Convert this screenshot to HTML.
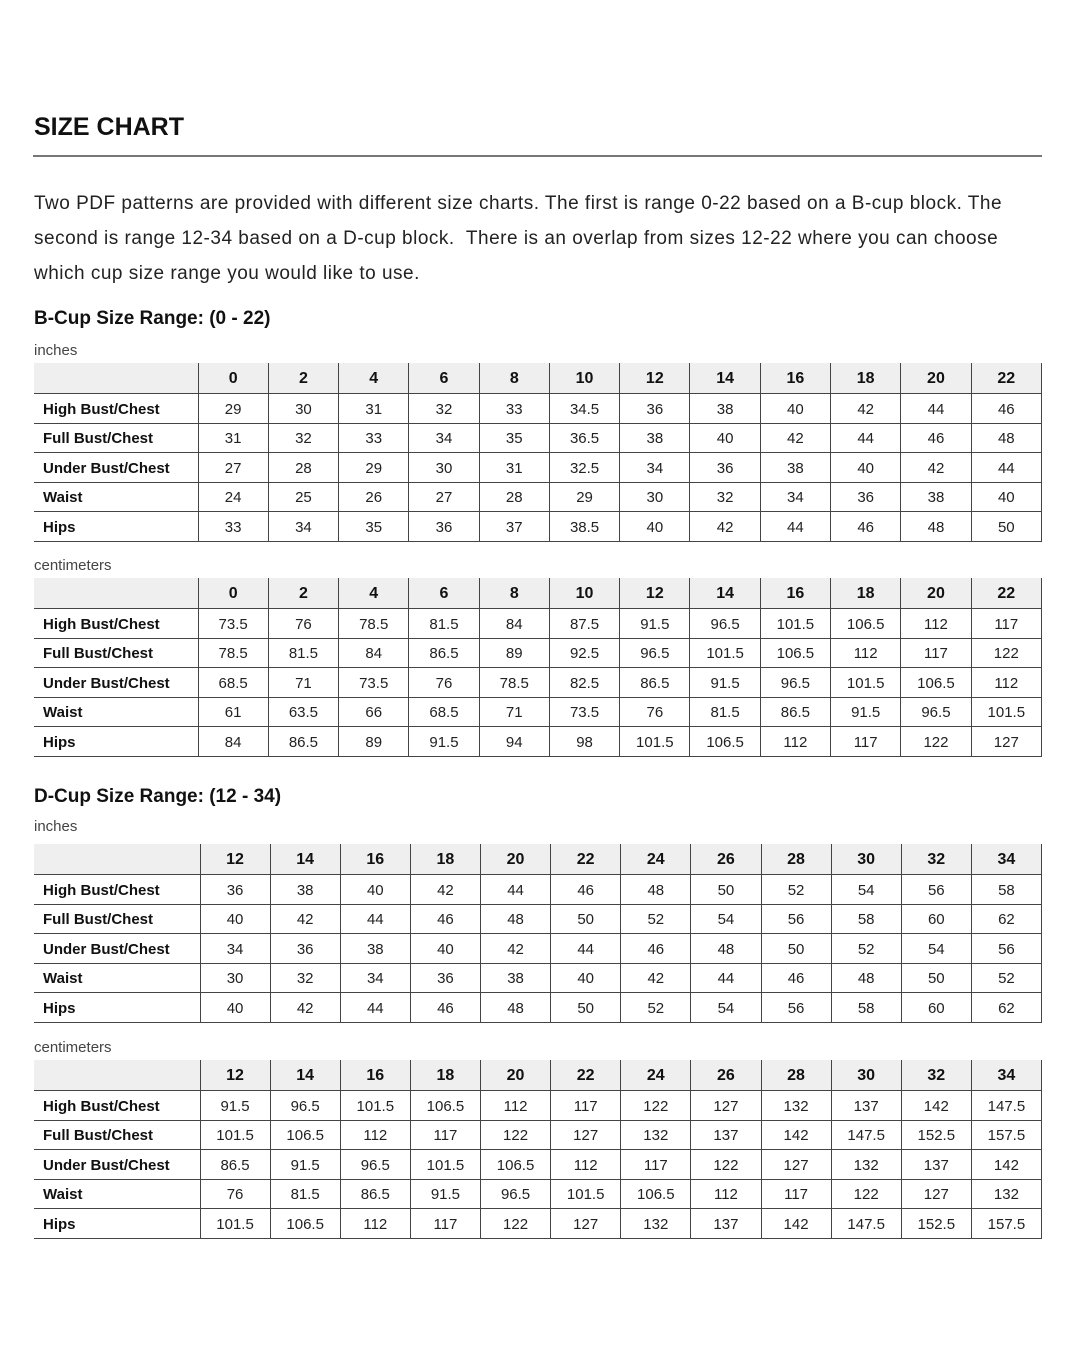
<!DOCTYPE html>
<html><head><meta charset="utf-8"><style>
body{margin:0;width:1080px;height:1350px;background:#fff;font-family:"Liberation Sans",sans-serif;color:#1a1a1a;position:relative;overflow:hidden}
.a{position:absolute;white-space:nowrap}
h1{position:absolute;left:34px;top:113px;margin:0;font-size:25px;font-weight:bold;color:#111}
.rule{position:absolute;left:33px;top:155px;width:1009px;height:2px;background:#777}
p{position:absolute;left:34px;top:186px;margin:0;font-size:19px;line-height:35px;color:#222;white-space:nowrap;letter-spacing:0.5px}
.h2{font-size:19px;font-weight:bold;color:#111}
.u{font-size:15px;color:#444}
table{position:absolute;left:34px;border-collapse:collapse;table-layout:fixed;font-size:15px;color:#222}
td,th{border-bottom:1.5px solid #444;text-align:center;padding:2px 0 0 0;height:26.5px}
th{background:#efefef;font-size:16px;font-weight:bold;height:28px;color:#111}
td+td,th+th{border-left:1.5px solid #444}
td:last-child,th:last-child{border-right:1.5px solid #444}
td:first-child{text-align:left;padding-left:9px;font-weight:bold;color:#111}
</style></head><body>
<h1>SIZE CHART</h1>
<div class="rule"></div>
<p>Two PDF patterns are provided with different size charts. The first is range 0-22 based on a B-cup block. The<br>second is range 12-34 based on a D-cup block.&nbsp; There is an overlap from sizes 12-22 where you can choose<br>which cup size range you would like to use.</p>
<div class="a h2" style="left:34px;top:308px">B-Cup Size Range: (0 - 22)</div>
<div class="a u" style="left:34px;top:342px">inches</div>
<table style="top:363px;width:1008px"><colgroup><col style="width:164px"><col span="12"></colgroup>
<tr><th></th><th>0</th><th>2</th><th>4</th><th>6</th><th>8</th><th>10</th><th>12</th><th>14</th><th>16</th><th>18</th><th>20</th><th>22</th></tr>
<tr><td>High Bust/Chest</td><td>29</td><td>30</td><td>31</td><td>32</td><td>33</td><td>34.5</td><td>36</td><td>38</td><td>40</td><td>42</td><td>44</td><td>46</td></tr>
<tr><td>Full Bust/Chest</td><td>31</td><td>32</td><td>33</td><td>34</td><td>35</td><td>36.5</td><td>38</td><td>40</td><td>42</td><td>44</td><td>46</td><td>48</td></tr>
<tr><td>Under Bust/Chest</td><td>27</td><td>28</td><td>29</td><td>30</td><td>31</td><td>32.5</td><td>34</td><td>36</td><td>38</td><td>40</td><td>42</td><td>44</td></tr>
<tr><td>Waist</td><td>24</td><td>25</td><td>26</td><td>27</td><td>28</td><td>29</td><td>30</td><td>32</td><td>34</td><td>36</td><td>38</td><td>40</td></tr>
<tr><td>Hips</td><td>33</td><td>34</td><td>35</td><td>36</td><td>37</td><td>38.5</td><td>40</td><td>42</td><td>44</td><td>46</td><td>48</td><td>50</td></tr>
</table>
<div class="a u" style="left:34px;top:557px">centimeters</div>
<table style="top:578px;width:1008px"><colgroup><col style="width:164px"><col span="12"></colgroup>
<tr><th></th><th>0</th><th>2</th><th>4</th><th>6</th><th>8</th><th>10</th><th>12</th><th>14</th><th>16</th><th>18</th><th>20</th><th>22</th></tr>
<tr><td>High Bust/Chest</td><td>73.5</td><td>76</td><td>78.5</td><td>81.5</td><td>84</td><td>87.5</td><td>91.5</td><td>96.5</td><td>101.5</td><td>106.5</td><td>112</td><td>117</td></tr>
<tr><td>Full Bust/Chest</td><td>78.5</td><td>81.5</td><td>84</td><td>86.5</td><td>89</td><td>92.5</td><td>96.5</td><td>101.5</td><td>106.5</td><td>112</td><td>117</td><td>122</td></tr>
<tr><td>Under Bust/Chest</td><td>68.5</td><td>71</td><td>73.5</td><td>76</td><td>78.5</td><td>82.5</td><td>86.5</td><td>91.5</td><td>96.5</td><td>101.5</td><td>106.5</td><td>112</td></tr>
<tr><td>Waist</td><td>61</td><td>63.5</td><td>66</td><td>68.5</td><td>71</td><td>73.5</td><td>76</td><td>81.5</td><td>86.5</td><td>91.5</td><td>96.5</td><td>101.5</td></tr>
<tr><td>Hips</td><td>84</td><td>86.5</td><td>89</td><td>91.5</td><td>94</td><td>98</td><td>101.5</td><td>106.5</td><td>112</td><td>117</td><td>122</td><td>127</td></tr>
</table>
<div class="a h2" style="left:34px;top:786px">D-Cup Size Range: (12 - 34)</div>
<div class="a u" style="left:34px;top:818px">inches</div>
<table style="top:844px;width:1008px"><colgroup><col style="width:166px"><col span="12"></colgroup>
<tr><th></th><th>12</th><th>14</th><th>16</th><th>18</th><th>20</th><th>22</th><th>24</th><th>26</th><th>28</th><th>30</th><th>32</th><th>34</th></tr>
<tr><td>High Bust/Chest</td><td>36</td><td>38</td><td>40</td><td>42</td><td>44</td><td>46</td><td>48</td><td>50</td><td>52</td><td>54</td><td>56</td><td>58</td></tr>
<tr><td>Full Bust/Chest</td><td>40</td><td>42</td><td>44</td><td>46</td><td>48</td><td>50</td><td>52</td><td>54</td><td>56</td><td>58</td><td>60</td><td>62</td></tr>
<tr><td>Under Bust/Chest</td><td>34</td><td>36</td><td>38</td><td>40</td><td>42</td><td>44</td><td>46</td><td>48</td><td>50</td><td>52</td><td>54</td><td>56</td></tr>
<tr><td>Waist</td><td>30</td><td>32</td><td>34</td><td>36</td><td>38</td><td>40</td><td>42</td><td>44</td><td>46</td><td>48</td><td>50</td><td>52</td></tr>
<tr><td>Hips</td><td>40</td><td>42</td><td>44</td><td>46</td><td>48</td><td>50</td><td>52</td><td>54</td><td>56</td><td>58</td><td>60</td><td>62</td></tr>
</table>
<div class="a u" style="left:34px;top:1039px">centimeters</div>
<table style="top:1060px;width:1008px"><colgroup><col style="width:166px"><col span="12"></colgroup>
<tr><th></th><th>12</th><th>14</th><th>16</th><th>18</th><th>20</th><th>22</th><th>24</th><th>26</th><th>28</th><th>30</th><th>32</th><th>34</th></tr>
<tr><td>High Bust/Chest</td><td>91.5</td><td>96.5</td><td>101.5</td><td>106.5</td><td>112</td><td>117</td><td>122</td><td>127</td><td>132</td><td>137</td><td>142</td><td>147.5</td></tr>
<tr><td>Full Bust/Chest</td><td>101.5</td><td>106.5</td><td>112</td><td>117</td><td>122</td><td>127</td><td>132</td><td>137</td><td>142</td><td>147.5</td><td>152.5</td><td>157.5</td></tr>
<tr><td>Under Bust/Chest</td><td>86.5</td><td>91.5</td><td>96.5</td><td>101.5</td><td>106.5</td><td>112</td><td>117</td><td>122</td><td>127</td><td>132</td><td>137</td><td>142</td></tr>
<tr><td>Waist</td><td>76</td><td>81.5</td><td>86.5</td><td>91.5</td><td>96.5</td><td>101.5</td><td>106.5</td><td>112</td><td>117</td><td>122</td><td>127</td><td>132</td></tr>
<tr><td>Hips</td><td>101.5</td><td>106.5</td><td>112</td><td>117</td><td>122</td><td>127</td><td>132</td><td>137</td><td>142</td><td>147.5</td><td>152.5</td><td>157.5</td></tr>
</table>
</body></html>
